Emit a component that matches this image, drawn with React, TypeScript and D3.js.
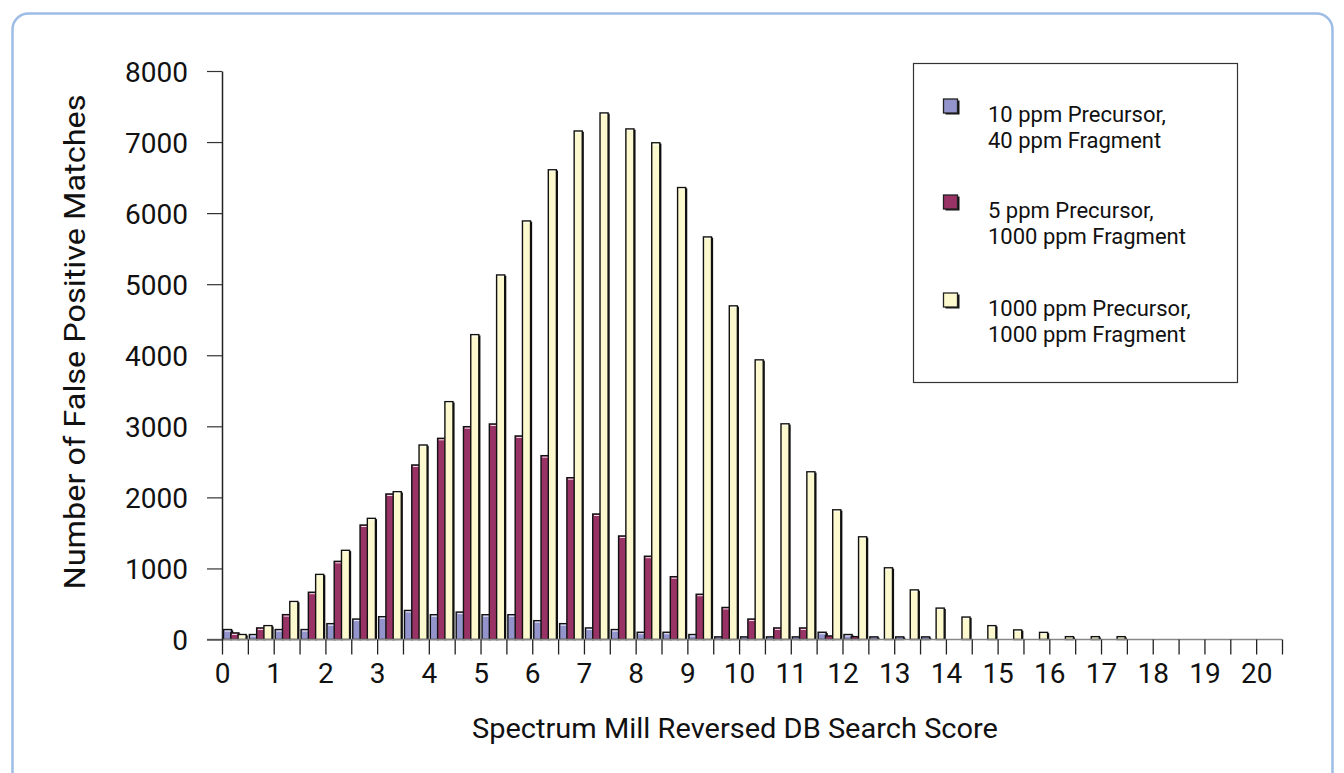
import { useEffect, useRef } from "react";
import * as d3 from "d3";

// score bins (half units), 0 .. 17.5
const bins = d3.range(0, 35).map((i) => String(i / 2));

const series = ["s10", "s5", "s1000"];
const seriesColors = ["#9494cc", "#993366", "#fdf9cf"];
const seriesLabels = [
  ["10 ppm Precursor,", "40 ppm Fragment"],
  ["5 ppm Precursor,", "1000 ppm Fragment"],
  ["1000 ppm Precursor,", "1000 ppm Fragment"],
];

const precursor10 = [
  140, 70, 140, 140, 223, 288, 321, 409, 349, 386, 349, 349, 265, 223, 163,
  140, 102, 102, 70, 37, 37, 37, 37, 102, 70, 37, 37, 37, 0, 0, 0, 0, 0, 0, 0,
];
const precursor5 = [
  93, 163, 350, 665, 1100, 1611, 2048, 2456, 2831, 2995, 3033, 2864, 2587,
  2277, 1766, 1457, 1172, 884, 637, 451, 288, 163, 163, 50, 40, 0, 0, 0, 0, 0,
  0, 0, 0, 0, 0,
];
const precursor1000 = [
  70, 195, 535, 916, 1255, 1705, 2080, 2737, 3347, 4290, 5130, 5890, 6610,
  7156, 7410, 7185, 6990, 6360, 5665, 4695, 3935, 3035, 2360, 1825, 1445,
  1009, 698, 442, 316, 195, 135, 100, 40, 40, 40,
];

const yTicks = [0, 1000, 2000, 3000, 4000, 5000, 6000, 7000, 8000];
const xTicks = d3.range(0, 41.5).map((i) => i / 2); // 0 .. 20.5

const W = 1344;
const H = 773;
const left = 222;
const right = 1282;
const top = 71;
const bottom = 639.5;

const font = "Roboto, 'Liberation Sans', Arial, sans-serif";

const App = () => {
  const xAxisRef = useRef<SVGGElement>(null);
  const yAxisRef = useRef<SVGGElement>(null);

  const y = d3.scaleLinear().domain([0, 8000]).range([bottom, top]);
  const xLin = d3.scaleLinear().domain([0, 20.5]).range([left, right]);
  const x0 = d3
    .scaleBand()
    .domain(d3.range(0, 41).map((i) => String(i / 2)))
    .range([left, right])
    .paddingInner(0)
    .paddingOuter(0);
  const x1 = d3
    .scaleBand()
    .domain(series)
    .range([1.5, x0.bandwidth() - 2.5]);

  const data = [precursor10, precursor5, precursor1000];

  useEffect(() => {
    // y axis
    const yAxis = d3
      .axisLeft(y)
      .tickValues(yTicks)
      .tickSize(15)
      .tickSizeOuter(0)
      .tickPadding(19)
      .tickFormat((d) => String(d));
    const gy = d3.select(yAxisRef.current!).call(yAxis);
    gy.select(".domain").attr("stroke", "#222").attr("stroke-width", 1.5);
    gy.selectAll(".tick line").attr("stroke", "#333").attr("stroke-width", 1.2);
    gy.selectAll(".tick text")
      .attr("font-family", font)
      .attr("font-size", 28)
      .attr("fill", "#111")
      .attr("dy", "0.36em");

    // x axis
    const xAxis = d3
      .axisBottom(xLin)
      .tickValues(xTicks)
      .tickSize(15)
      .tickSizeOuter(0)
      .tickPadding(9)
      .tickFormat((d) => (Number(d) % 1 === 0 ? String(d) : ""));
    const gx = d3.select(xAxisRef.current!).call(xAxis);
    gx.select(".domain").remove();
    gx.selectAll(".tick line").attr("stroke", "#222").attr("stroke-width", 1.3);
    gx.selectAll(".tick text")
      .attr("font-family", font)
      .attr("font-size", 28)
      .attr("fill", "#111");
  }, []);

  return (
    <svg
      width={W}
      height={H}
      style={{ position: "absolute", left: 0, top: 0, background: "#fff" }}
    >
      {/* outer rounded frame */}
      <rect
        x={12.5}
        y={13.5}
        width={1320}
        height={820}
        rx={16}
        fill="none"
        stroke="#9dbde6"
        strokeWidth={2.5}
      />

      {/* bars */}
      {bins.map((b, i) => (
        <g key={b} transform={`translate(${x0(b)},0)`}>
          {series.map((s, k) => {
            const v = data[k][i];
            if (!v) return null;
            const bx = x1(s)!;
            const bw = x1.bandwidth() + 0.8;
            const by = y(v);
            const bh = bottom - by;
            return (
              <g key={s}>
                <rect x={bx + 1.6} y={by + 0.8} width={bw} height={bh - 0.8} fill="#111" />
                <rect
                  x={bx}
                  y={by}
                  width={bw}
                  height={bh}
                  fill={seriesColors[k]}
                  stroke="#111"
                  strokeWidth={1.4}
                />
                {bh > 4 && (
                  <line
                    x1={bx + 1.2}
                    x2={bx + bw - 1.2}
                    y1={by + 1.5}
                    y2={by + 1.5}
                    stroke="#fff"
                    strokeWidth={1}
                    opacity={0.85}
                  />
                )}
              </g>
            );
          })}
        </g>
      ))}

      {/* zero baseline */}
      <line x1={207} x2={right} y1={bottom} y2={bottom} stroke="#888" strokeWidth={1.5} />

      <g ref={yAxisRef} transform={`translate(${left},0)`} />
      <g ref={xAxisRef} transform={`translate(0,${bottom})`} />

      {/* axis titles */}
      <text
        x={735}
        y={728}
        textAnchor="middle"
        dominantBaseline="central"
        fontFamily={font}
        fontSize={28}
        textLength={526}
        lengthAdjust="spacingAndGlyphs"
        fill="#111"
      >
        Spectrum Mill Reversed DB Search Score
      </text>
      <text
        transform="translate(75,342) rotate(-90)"
        textAnchor="middle"
        dominantBaseline="central"
        fontFamily={font}
        fontSize={29}
        textLength={495}
        lengthAdjust="spacingAndGlyphs"
        fill="#111"
      >
        Number of False Positive Matches
      </text>

      {/* legend */}
      <rect x={913.5} y={63.5} width={324} height={319} fill="#fff" stroke="#333" strokeWidth={1.2} />
      {seriesLabels.map((lines, k) => {
        const base = [122, 218, 316][k];
        return (
          <g key={k}>
            <rect x={945.5} y={base - 21.5} width={14} height={14} fill="#111" />
            <rect
              x={943.5}
              y={base - 23}
              width={14}
              height={14}
              fill={seriesColors[k]}
              stroke="#222"
              strokeWidth={1.3}
            />
            {lines.map((t, j) => (
              <text
                key={j}
                x={988}
                y={base + j * 26}
                fontFamily={font}
                fontSize={22}
                fill="#111"
              >
                {t}
              </text>
            ))}
          </g>
        );
      })}
    </svg>
  );
};

export default App;
